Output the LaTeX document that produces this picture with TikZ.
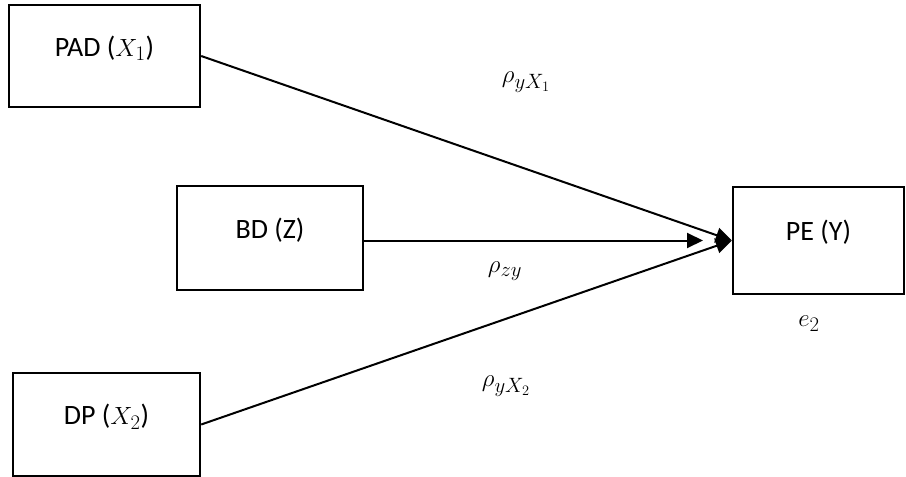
\documentclass[tikz,border=0pt]{standalone}
\usepackage{fontspec}
\setmainfont{Carlito}
\usetikzlibrary{arrows.meta}
\begin{document}
\begin{tikzpicture}[x=1pt,y=-1pt,
  box/.style={draw, line width=2.4pt, rectangle, inner sep=0pt,
    text height=10pt, text depth=10pt, font=\fontsize{28}{34}\selectfont},
  link/.style={line width=2pt, -{Triangle[length=16pt,width=15pt]}},
  lbl/.style={inner sep=0pt, font=\fontsize{28}{34}\selectfont}]
\useasboundingbox (0,0) rectangle (906,477);
\node[box, minimum width=191pt, minimum height=102pt] (pad) at (104.5,56) {PAD ($X_1$)};
\node[box, minimum width=186pt, minimum height=104pt] (bd) at (270,238) {BD (Z)};
\node[box, minimum width=187pt, minimum height=103pt] (dp) at (106.5,424.5) {DP ($X_2$)};
\node[box, minimum width=171pt, minimum height=107pt] (pe) at (818.5,240.5) {PE (Y)};
\coordinate (zt) at (703,240.5);
\draw[link] (pad.east) -- (pe.west);
\draw[link] (bd.east |- pe.west) -- (zt);
\draw[link] (dp.east) -- (pe.west);
\node[lbl] (l1) at (526,82) {$\rho_{yX_1}$};
\node[lbl] (l2) at (505,271) {$\rho_{zy}$};
\node[lbl] (l3) at (506,386) {$\rho_{yX_2}$};
\node[lbl] (l4) at (809,324) {$e_2$};
\end{tikzpicture}
\end{document}
